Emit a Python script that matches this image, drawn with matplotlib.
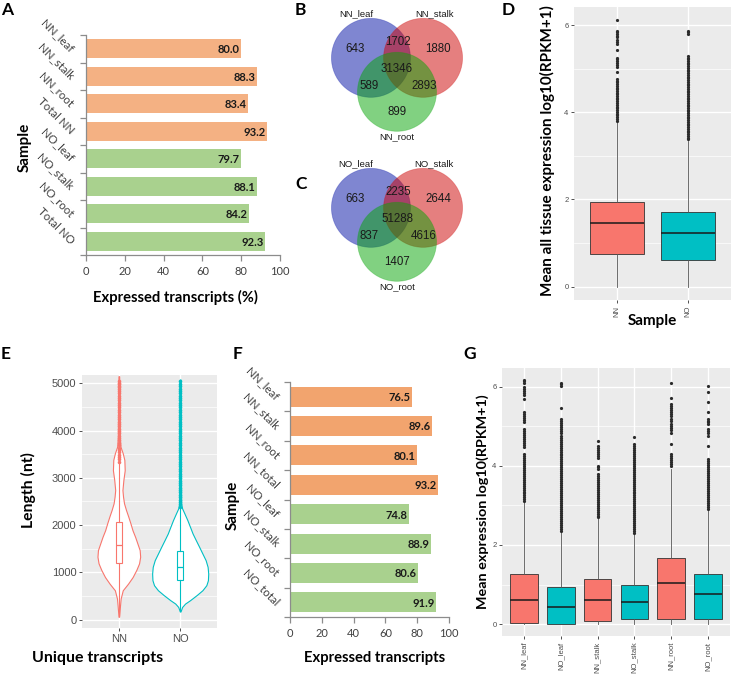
import numpy as np
import matplotlib
matplotlib.use('Agg')
import matplotlib.pyplot as plt
from matplotlib.patches import Ellipse

# ---------------- data ----------------
# Panel A
samples_A = ['NN_leaf', 'NN_stalk', 'NN_root', 'Total NN', 'NO_leaf', 'NO_stalk', 'NO_root', 'Total NO']
expressed_A = [80.0, 88.3, 83.4, 93.2, 79.7, 88.1, 84.2, 92.3]
group_A = ['NN', 'NN', 'NN', 'NN', 'NO', 'NO', 'NO', 'NO']

# Panel F
samples_F = ['NN_leaf', 'NN_stalk', 'NN_root', 'NN_total', 'NO_leaf', 'NO_stalk', 'NO_root', 'NO_total']
expressed_F = [76.5, 89.6, 80.1, 93.2, 74.8, 88.9, 80.6, 91.9]
group_F = ['NN', 'NN', 'NN', 'NN', 'NO', 'NO', 'NO', 'NO']

# Panel B / C  (Venn counts: A only, B only, C only, AB, AC, BC, ABC)
venn_B_sets = ['NN_leaf', 'NN_stalk', 'NN_root']
venn_B_counts = [643, 1880, 899, 1702, 589, 2893, 31346]
venn_C_sets = ['NO_leaf', 'NO_stalk', 'NO_root']
venn_C_counts = [663, 2644, 1407, 2235, 837, 4616, 51288]

# Panel D (box statistics)
groups_D = ['NN', 'NO']
q1_D = [0.75, 0.61]
med_D = [1.46, 1.23]
q3_D = [1.95, 1.72]
whislo_D = [0.0, 0.0]
whishi_D = [3.78, 3.35]
fliers_D_NN = [6.12, 5.87, 5.84, 5.80, 5.76, 5.72, 5.67, 5.62, 5.56, 5.43, 5.26, 5.22, 5.18, 5.14, 5.09,
               5.05, 4.93, 4.77, 4.73, 4.69, 4.66, 4.61, 4.57, 4.54, 4.49, 4.45, 4.42, 4.37, 4.33, 4.30,
               4.25, 4.21, 4.18, 4.13, 4.09, 4.06, 4.01, 3.97, 3.94, 3.89, 3.85, 3.81]
fliers_D_NO = [5.88, 5.84, 5.79, 5.30, 5.26, 5.22, 5.18, 5.14, 5.10, 5.06, 5.02, 4.98, 4.94, 4.90, 4.86,
               4.82, 4.78, 4.74, 4.70, 4.66, 4.62, 4.58, 4.54, 4.50, 4.46, 4.42, 4.38, 4.34, 4.30, 4.26,
               4.22, 4.18, 4.14, 4.10, 4.06, 4.02, 3.98, 3.94, 3.90, 3.86, 3.82, 3.78, 3.74, 3.70, 3.66,
               3.62, 3.58, 3.54, 3.50, 3.46, 3.42, 3.38]

# Panel E (violin outlines: length vs. half-width in category units)
groups_E = ['NN', 'NO']
len_E_NN = [60, 304, 445, 620, 760, 900, 1050, 1190, 1330, 1470, 1610, 1750, 1890, 2030, 2180, 2320,
            2460, 2600, 2740, 2950, 3160, 3380, 3520, 3660, 3870, 4300, 4800, 5150]
hw_E_NN = [0.005, 0.020, 0.030, 0.064, 0.150, 0.225, 0.285, 0.330, 0.348, 0.340, 0.303, 0.266, 0.223,
           0.191, 0.154, 0.117, 0.085, 0.069, 0.059, 0.074, 0.096, 0.090, 0.064, 0.027, 0.016, 0.013,
           0.011, 0.006]
len_E_NO = [170, 268, 339, 410, 516, 621, 727, 833, 975, 1116, 1257, 1398, 1540, 1681, 1822, 1963,
            2105, 2246, 2352, 2458, 3000, 4000, 5080]
hw_E_NO = [0.005, 0.032, 0.080, 0.160, 0.266, 0.362, 0.426, 0.452, 0.457, 0.447, 0.415, 0.362, 0.309,
           0.255, 0.202, 0.160, 0.117, 0.069, 0.032, 0.016, 0.013, 0.011, 0.006]
q1_E = [1208, 833]
med_E = [1582, 1123]
q3_E = [2055, 1462]
whislo_E = [100, 180]
whishi_E = [3300, 2370]
fliers_E_NN = [3340, 3390, 3440, 3490, 3540, 3590, 3640, 3690, 3740, 3790, 3840, 3890, 3940, 3990,
               4040, 4090, 4140, 4190, 4240, 4290, 4340, 4390, 4440, 4490, 4540, 4590, 4640, 4690,
               4740, 4790, 4840, 4880, 4920, 4950, 4980, 5010, 5050]
fliers_E_NO = [2390, 2440, 2490, 2540, 2590, 2640, 2690, 2740, 2790, 2840, 2890, 2940, 2990, 3040,
               3090, 3140, 3190, 3240, 3290, 3340, 3390, 3440, 3490, 3540, 3590, 3640, 3690, 3740,
               3790, 3840, 3890, 3940, 3990, 4040, 4090, 4140, 4190, 4240, 4290, 4340, 4390, 4440,
               4490, 4540, 4590, 4640, 4690, 4740, 4790, 4840, 4890, 4940, 4990, 5040]

# Panel G
groups_G = ['NN_leaf', 'NO_leaf', 'NN_stalk', 'NO_stalk', 'NN_root', 'NO_root']
q1_G = [0.03, 0.00, 0.09, 0.12, 0.14, 0.14]
med_G = [0.62, 0.43, 0.60, 0.55, 1.05, 0.75]
q3_G = [1.26, 0.93, 1.13, 0.99, 1.66, 1.26]
whislo_G = [0.0, 0.0, 0.0, 0.0, 0.0, 0.0]
whishi_G = [3.09, 2.32, 2.69, 2.27, 3.93, 2.88]
fliers_G_NN_leaf = [6.17, 6.13, 6.10, 6.00, 5.95, 5.90, 5.85, 5.80, 5.68, 5.36, 5.30, 5.25, 5.20, 5.15,
                    5.10, 4.92, 4.87, 4.82, 4.77, 4.72, 4.67, 4.62, 4.57, 4.52, 4.47, 4.30, 4.25, 4.20,
                    4.15, 4.10, 4.05, 4.00, 3.95, 3.90, 3.85, 3.80, 3.75, 3.70, 3.65, 3.60, 3.55, 3.50,
                    3.45, 3.40, 3.35, 3.30, 3.25, 3.20, 3.15, 3.11]
fliers_G_NO_leaf = [6.10, 6.06, 6.02, 5.47, 5.18, 5.13, 5.08, 5.03, 4.98, 4.93, 4.88, 4.84, 4.76, 4.71,
                    4.66, 4.61, 4.56, 4.51, 4.46, 4.41, 4.36, 4.31, 4.26, 4.21, 4.16, 4.11, 4.06, 4.01,
                    3.96, 3.91, 3.86, 3.81, 3.76, 3.71, 3.66, 3.61, 3.56, 3.51, 3.46, 3.41, 3.36, 3.31,
                    3.26, 3.21, 3.16, 3.11, 3.06, 3.01, 2.96, 2.91, 2.86, 2.81, 2.76, 2.71, 2.66, 2.61,
                    2.56, 2.51, 2.46, 2.41, 2.36]
fliers_G_NN_stalk = [4.63, 4.49, 4.44, 4.39, 4.34, 4.29, 4.24, 4.19, 4.00, 3.96, 3.92, 3.79, 3.74, 3.69,
                     3.64, 3.59, 3.54, 3.49, 3.44, 3.39, 3.34, 3.29, 3.24, 3.19, 3.14, 3.09, 3.04, 2.99,
                     2.94, 2.89, 2.84, 2.79, 2.74, 2.71]
fliers_G_NO_stalk = [4.73, 4.55, 4.50, 4.45, 4.40, 4.35, 4.30, 4.25, 4.20, 4.15, 4.10, 4.05, 4.00, 3.95,
                     3.90, 3.85, 3.80, 3.75, 3.70, 3.65, 3.60, 3.55, 3.50, 3.45, 3.40, 3.35, 3.30, 3.25,
                     3.20, 3.15, 3.10, 3.05, 3.00, 2.95, 2.90, 2.85, 2.80, 2.75, 2.70, 2.65, 2.60, 2.55,
                     2.50, 2.45, 2.40, 2.35, 2.30]
fliers_G_NN_root = [6.10, 5.70, 5.55, 5.50, 5.45, 5.40, 5.35, 5.30, 5.25, 5.18, 5.13, 5.05, 5.00, 4.95,
                    4.90, 4.84, 4.55, 4.30, 4.25, 4.20, 4.15, 4.10, 4.05, 4.00]
fliers_G_NO_root = [6.02, 5.87, 5.60, 5.36, 5.18, 5.14, 5.10, 5.05, 4.92, 4.87, 4.82, 4.76, 4.50, 4.17,
                    4.12, 4.07, 4.02, 3.97, 3.92, 3.87, 3.82, 3.77, 3.72, 3.67, 3.62, 3.57, 3.52, 3.47,
                    3.42, 3.37, 3.32, 3.27, 3.22, 3.17, 3.12, 3.07, 3.02, 2.97, 2.92]

# ---------------- style ----------------
W, H = 732, 678
fig = plt.figure(figsize=(W / 100, H / 100), dpi=100)
BOLD = 'Lato'
SANS = 'Liberation Sans'
GG_RED, GG_CYAN = '#F8766D', '#00BFC4'


def pax(x0, y0, x1, y1):
    return fig.add_axes([x0 / W, 1 - y1 / H, (x1 - x0) / W, (y1 - y0) / H])


def ftext(x, y, s, **kw):
    fig.text(x / W, 1 - y / H, s, **kw)


def excel_bar(ax, labels, values, colors, xtick_fs, lab_fs, val_fs, lab_dx):
    y = np.arange(len(labels))
    ax.barh(y, values, height=0.68, color=colors)
    ax.set_ylim(len(labels) - 0.5, -0.5)
    ax.set_xlim(0, 100)
    ax.set_xticks(range(0, 101, 20))
    ax.set_yticks(np.arange(-0.5, len(labels), 1))
    ax.set_yticklabels([])
    for s in ['top', 'right']:
        ax.spines[s].set_visible(False)
    for s in ['left', 'bottom']:
        ax.spines[s].set_color('#8C8C8C')
        ax.spines[s].set_linewidth(0.9)
    ax.tick_params(axis='both', color='#8C8C8C', length=4, width=0.9, direction='out')
    ax.tick_params(axis='x', labelsize=xtick_fs, labelcolor='#404040', pad=4)
    for t in ax.get_xticklabels():
        t.set_family(BOLD)
    for yi, lab in zip(y, labels):
        ax.annotate(lab, xy=(0, yi), xycoords=('axes fraction', 'data'), xytext=(-lab_dx, -1),
                    textcoords='offset points', rotation=-45, rotation_mode='anchor',
                    ha='right', va='center', fontsize=lab_fs, family=BOLD, color='#404040')
    for yi, v in zip(y, values):
        ax.text(v - 0.8, yi + 0.03, f'{v:.1f}', ha='right', va='center', fontsize=val_fs,
                fontweight='bold', family=BOLD, color='#1a1a1a')


def gg_axes(ax, tick_fs):
    ax.set_facecolor('#EBEBEB')
    for s in ax.spines.values():
        s.set_visible(False)
    ax.set_axisbelow(True)
    ax.grid(which='major', color='white', lw=1.0)
    ax.grid(which='minor', axis='y', color='white', lw=0.5)
    ax.tick_params(which='major', length=2.5, width=0.6, color='#333333', labelsize=tick_fs,
                   labelcolor='#4D4D4D', pad=1.5)
    ax.tick_params(which='minor', length=0)
    for t in ax.get_xticklabels() + ax.get_yticklabels():
        t.set_family(SANS)


def gg_box(ax, q1, med, q3, lo, hi, fliers, colors, widths=0.75):
    stats = [dict(q1=a, med=m, q3=b, whislo=l, whishi=h, fliers=f)
             for a, m, b, l, h, f in zip(q1, med, q3, lo, hi, fliers)]
    bp = ax.bxp(stats, positions=range(1, len(stats) + 1), widths=widths, patch_artist=True,
                showcaps=False,
                boxprops=dict(edgecolor='#333333', linewidth=0.6),
                medianprops=dict(color='#1a1a1a', linewidth=1.1),
                whiskerprops=dict(color='#555555', linewidth=0.6),
                flierprops=dict(marker='o', markersize=2.3, markerfacecolor='#2b2b2b',
                                markeredgecolor='none'))
    for patch, c in zip(bp['boxes'], colors):
        patch.set_facecolor(c)
    return bp


# ---------------- Panel A ----------------
axA = pax(86, 35, 280, 255)
excel_bar(axA, samples_A, expressed_A,
          ['#F4B183' if g == 'NN' else '#A9D18E' for g in group_A], 8, 8.3, 8, 10)
ftext(175, 297, 'Expressed transcripts (%)', ha='center', va='center', fontsize=10.6,
      fontweight='bold', family=BOLD)
ftext(25, 147, 'Sample', ha='center', va='center', rotation=90, fontsize=11,
      fontweight='bold', family=BOLD)

# ---------------- Panel F ----------------
axF = pax(290, 382, 449, 617)
excel_bar(axF, samples_F, expressed_F,
          ['#F2A46E' if g == 'NN' else '#A9D18E' for g in group_F], 8, 8.3, 8, 9)
ftext(375, 658, 'Expressed transcripts', ha='center', va='center', fontsize=10.6,
      fontweight='bold', family=BOLD)
ftext(233, 505, 'Sample', ha='center', va='center', rotation=90, fontsize=11,
      fontweight='bold', family=BOLD)

# ---------------- Panels B, C (Venn) ----------------
R = 1.0
centers = [(-0.66, 0.29), (0.66, 0.29), (0.0, -0.57)]
fills = ['#000FA5', '#CD0000', '#05A505']
count_pos = [(-1.06, 0.51), (1.04, 0.51), (0.0, -1.08), (0.03, 0.69), (-0.71, -0.42),
             (0.68, -0.42), (0.0, 0.0)]
label_pos = [(-1.04, 1.40), (0.94, 1.40), (0.0, -1.70)]


def venn(ax, sets, counts):
    ax.set_xlim(-2.456, 2.456)
    ax.set_ylim(-2.043, 1.754)
    ax.axis('off')
    for (cx, cy), c in zip(centers, fills):
        ax.add_patch(Ellipse((cx, cy), 2 * R, 2 * R, facecolor=c, alpha=0.5, edgecolor='none'))
        ax.add_patch(Ellipse((cx, cy), 2 * R, 2 * R, facecolor='none', edgecolor=c, alpha=0.3,
                             lw=0.6))
    for (x, y), n in zip(count_pos, counts):
        ax.text(x, y, str(n), ha='center', va='center', fontsize=8.3, family=SANS, color='#1a1a1a')
    for (x, y), s in zip(label_pos, sets):
        ax.text(x, y, s, ha='center', va='center', fontsize=6.8, family=SANS, color='#1a1a1a')


axB = pax(300, 0, 494, 150)
venn(axB, venn_B_sets, venn_B_counts)
axC = pax(300, 150, 494, 300)
venn(axC, venn_C_sets, venn_C_counts)

# ---------------- Panel D ----------------
axD = pax(574, 7, 731, 300)
gg_box(axD, q1_D, med_D, q3_D, whislo_D, whishi_D, [fliers_D_NN, fliers_D_NO], [GG_RED, GG_CYAN])
axD.set_xlim(0.4, 2.6)
axD.set_ylim(-0.31, 6.42)
axD.set_yticks([0, 2, 4, 6])
axD.set_yticks([1, 3, 5], minor=True)
axD.set_xticks([1, 2])
axD.set_xticklabels(groups_D, rotation=90)
gg_axes(axD, 5.5)
ftext(547, 151, 'Mean all tissue expression log10(RPKM+1)', ha='center', va='center', rotation=90,
      fontsize=11, fontweight='bold', family=BOLD)
ftext(652, 321, 'Sample', ha='center', va='center', fontsize=11, fontweight='bold', family=BOLD)

# ---------------- Panel E ----------------
axE = pax(82, 375, 217, 628)
for i, (lens, hws, col) in enumerate([(len_E_NN, hw_E_NN, GG_RED), (len_E_NO, hw_E_NO, GG_CYAN)]):
    pos = i + 1
    axE.fill_betweenx(lens, pos - np.array(hws), pos + np.array(hws), facecolor='white',
                      edgecolor=col, lw=0.8, zorder=2)
statsE = [dict(q1=a, med=m, q3=b, whislo=l, whishi=h, fliers=f)
          for a, m, b, l, h, f in zip(q1_E, med_E, q3_E, whislo_E, whishi_E,
                                      [fliers_E_NN, fliers_E_NO])]
for i, col in enumerate([GG_RED, GG_CYAN]):
    axE.bxp([statsE[i]], positions=[i + 1], widths=0.1, patch_artist=True, showcaps=False,
            boxprops=dict(edgecolor=col, facecolor='white', linewidth=0.8),
            medianprops=dict(color=col, linewidth=0.9),
            whiskerprops=dict(color=col, linewidth=0.8),
            flierprops=dict(marker='o', markersize=2.6, markerfacecolor=col, markeredgecolor='none'),
            zorder=3)
axE.set_xlim(0.4, 2.6)
axE.set_ylim(-178, 5176)
axE.set_yticks(range(0, 5001, 1000))
axE.set_yticks(range(500, 5000, 1000), minor=True)
axE.set_xticks([1, 2])
axE.set_xticklabels(groups_E)
gg_axes(axE, 8)
ftext(98, 658, 'Unique transcripts', ha='center', va='center', fontsize=11.5, fontweight='bold',
      family=BOLD)
ftext(28, 490, 'Length (nt)', ha='center', va='center', rotation=90, fontsize=11.3, fontweight='bold',
      family=BOLD)

# ---------------- Panel G ----------------
axG = pax(502, 368, 730, 636)
gg_box(axG, q1_G, med_G, q3_G, whislo_G, whishi_G,
       [fliers_G_NN_leaf, fliers_G_NO_leaf, fliers_G_NN_stalk, fliers_G_NO_stalk,
        fliers_G_NN_root, fliers_G_NO_root],
       [GG_RED, GG_CYAN] * 3)
axG.set_xlim(0.4, 6.6)
axG.set_ylim(-0.30, 6.47)
axG.set_yticks([0, 2, 4, 6])
axG.set_yticks([1, 3, 5], minor=True)
axG.set_xticks(range(1, 7))
axG.set_xticklabels(groups_G, rotation=90)
gg_axes(axG, 5.5)
ftext(483, 502, 'Mean expression log10(RPKM+1)', ha='center', va='center', rotation=90,
      fontsize=10.4, fontweight='bold', family=BOLD)

# ---------------- panel letters ----------------
for x, y, s in [(1, 2, 'A'), (295, 2, 'B'), (295, 176, 'C'), (502, 2, 'D'), (1, 346, 'E'),
                (233, 346, 'F'), (463, 346, 'G')]:
    ftext(x, y, s, ha='left', va='top', fontsize=12.5, fontweight='bold', family=BOLD)

fig.savefig('out.png', dpi=100)
